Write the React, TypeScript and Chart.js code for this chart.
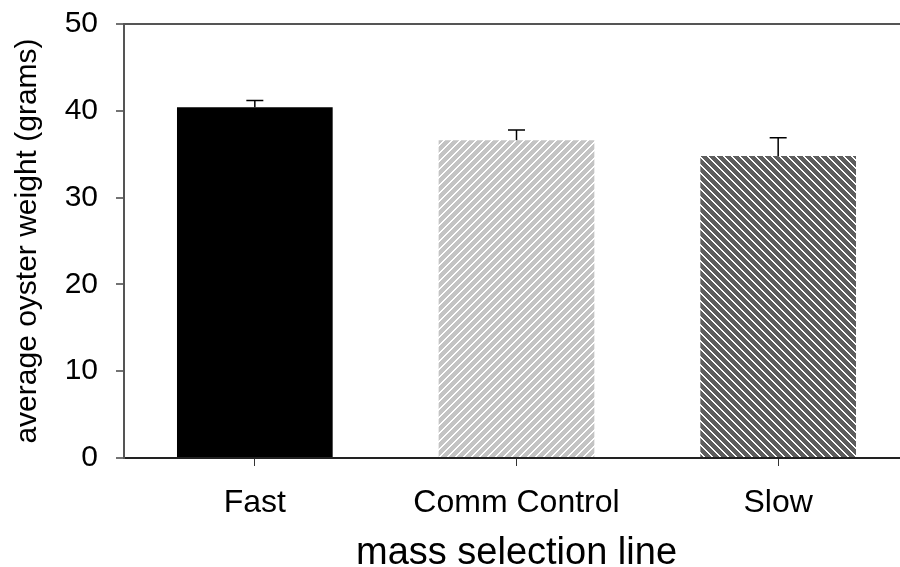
import React, { useEffect, useRef } from "react";
import { Chart, registerables } from "chart.js";

Chart.register(...registerables);

const categories = ["Fast", "Comm Control", "Slow"];
const meanWeight = [40.4, 36.6, 34.8];
const errorUp = [0.8, 1.2, 2.1];
const yTicks = [0, 10, 20, 30, 40, 50];

const FONT = "'Liberation Sans', Arial, Helvetica, sans-serif";

function makePattern(bg: string, dir: "up" | "down"): CanvasPattern | string {
  const c = document.createElement("canvas");
  c.width = 8;
  c.height = 8;
  const g = c.getContext("2d");
  if (!g) return bg;
  g.fillStyle = bg;
  g.fillRect(0, 0, 8, 8);
  g.fillStyle = "#ffffff";
  for (let y = 0; y < 8; y++) {
    for (let x = 0; x < 8; x++) {
      const m = dir === "up" ? (x + y) % 8 : (((x - y) % 8) + 8) % 8;
      if (m === 0 || m === 7) g.fillRect(x, y, 1, 1);
    }
  }
  const p = g.createPattern(c, "repeat");
  return p || bg;
}

const errorBarPlugin = {
  id: "errorBars",
  afterDatasetsDraw(chart: any) {
    const ctx = chart.ctx;
    const yScale = chart.scales.y;
    const meta = chart.getDatasetMeta(0);
    ctx.save();
    ctx.strokeStyle = "#000";
    ctx.lineWidth = 1.5;
    meta.data.forEach((bar: any, i: number) => {
      const x = bar.x;
      const y0 = yScale.getPixelForValue(meanWeight[i]);
      const y1 = yScale.getPixelForValue(meanWeight[i] + errorUp[i]);
      ctx.beginPath();
      ctx.moveTo(x, y0);
      ctx.lineTo(x, y1);
      ctx.moveTo(x - 8.5, y1);
      ctx.lineTo(x + 8.5, y1);
      ctx.stroke();
    });
    ctx.restore();
  },
};

export default function App() {
  const ref = useRef<HTMLCanvasElement | null>(null);
  useEffect(() => {
    if (!ref.current) return;
    const colors = [
      "#000000",
      makePattern("#c4c4c4", "up"),
      makePattern("#5e5e5e", "down"),
    ];
    const chart = new Chart(ref.current, {
      type: "bar",
      data: {
        labels: categories,
        datasets: [
          {
            data: meanWeight,
            backgroundColor: colors as any,
            borderWidth: 0,
            categoryPercentage: 1,
            barPercentage: 0.595,
          },
        ],
      },
      plugins: [errorBarPlugin],
      options: {
        animation: false,
        responsive: false,
        devicePixelRatio: 1,
        layout: { padding: { top: 24, right: 11, left: 0, bottom: 0 } },
        plugins: { legend: { display: false }, tooltip: { enabled: false } },
        scales: {
          x: {
            grid: {
              offset: false,
              drawOnChartArea: false,
              tickLength: 8,
              tickColor: "#333",
              tickWidth: 1,
            },
            border: { color: "#222", width: 2 },
            ticks: {
              color: "#000",
              padding: 18,
              font: { family: FONT, size: 32 },
            },
            title: {
              display: true,
              text: "mass selection line",
              color: "#000",
              font: { family: FONT, size: 38 },
              padding: { top: 0, bottom: -9 },
            },
            afterFit(scale: any) {
              scale.height = 109;
            },
          },
          y: {
            min: 0,
            max: 50,
            afterBuildTicks(scale: any) {
              scale.ticks = yTicks.map((v) => ({ value: v }));
            },
            grid: {
              color: (c: any) => (c.tick && c.tick.value === 50 ? "#555" : "rgba(0,0,0,0)"),
              lineWidth: 2,
              tickLength: 8,
              tickColor: "#444",
              tickWidth: 1.5,
            },
            border: { color: "#555", width: 2 },
            ticks: {
              color: "#000",
              padding: 18,
              font: { family: FONT, size: 30, lineHeight: 0.2 },
            },
            title: {
              display: true,
              text: "average oyster weight (grams)",
              color: "#000",
              font: { family: FONT, size: 30 },
              padding: { top: 10, bottom: 0 },
            },
            afterFit(scale: any) {
              scale.width = 124;
            },
          },
        },
      },
    });
    return () => chart.destroy();
  }, []);
  return (
    <div
      style={{
        position: "fixed",
        left: 0,
        top: 0,
        width: 900,
        height: 567,
        overflow: "hidden",
        background: "#fff",
      }}
    >
      <canvas ref={ref} width={920} height={567} style={{ display: "block" }} />
    </div>
  );
}
